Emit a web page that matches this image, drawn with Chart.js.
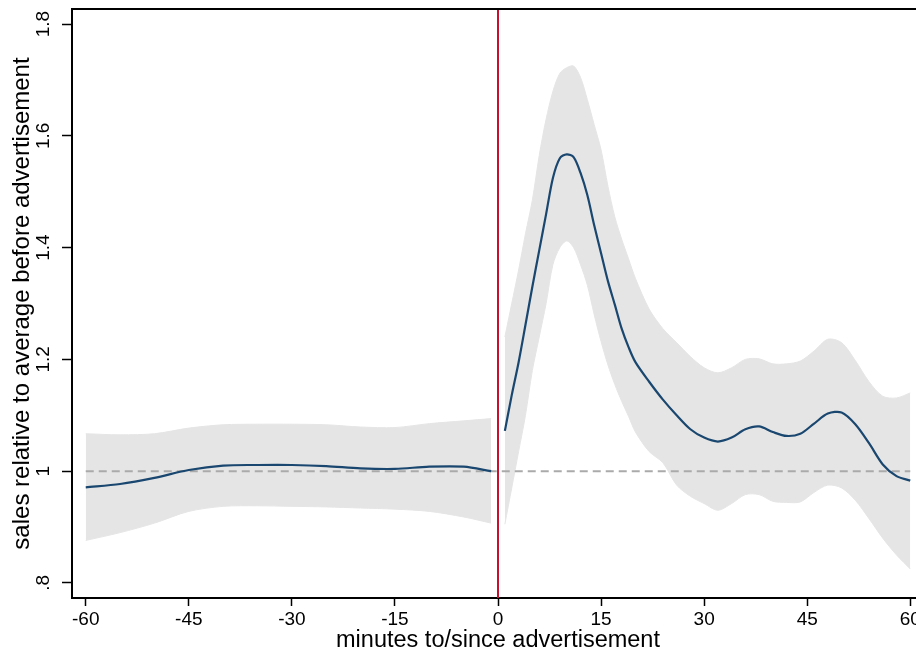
<!DOCTYPE html>
<html>
<head>
<meta charset="utf-8">
<script src="https://cdn.jsdelivr.net/npm/chart.js@4.4.1/dist/chart.umd.min.js"></script>
<style>
  html, body { margin: 0; padding: 0; background: #fff; overflow: hidden; }
  #wrap { width: 940px; height: 654px; }
</style>
</head>
<body>
<div id="wrap"><canvas id="chart"></canvas></div>
<script>
// minutes before the ad
const BEFORE_MIN   = [-60, -55, -50, -45, -40, -35, -30, -25, -20, -15, -10, -5, -1];
const BEFORE_SALES = [0.971, 0.977, 0.988, 1.002, 1.010, 1.011, 1.011, 1.009, 1.005, 1.004, 1.008, 1.008, 1.000];
const BEFORE_HI    = [1.067, 1.065, 1.067, 1.077, 1.083, 1.084, 1.084, 1.083, 1.079, 1.078, 1.085, 1.090, 1.094];
const BEFORE_LO    = [0.876, 0.890, 0.907, 0.928, 0.937, 0.938, 0.937, 0.936, 0.934, 0.932, 0.928, 0.918, 0.907];

// minutes after the ad
const AFTER_MIN   = [1, 2, 3, 4, 5, 6, 7, 8, 9, 10, 11, 12, 13, 14, 15, 16, 17, 18, 19, 20,
                     22, 24, 26, 28, 30, 32, 34, 36, 38, 40, 42, 44, 46, 48, 50, 52, 54, 56, 58, 60];
const AFTER_SALES = [1.072, 1.136, 1.195, 1.262, 1.330, 1.395, 1.460, 1.525, 1.560, 1.567, 1.562, 1.534, 1.494, 1.440, 1.390, 1.340, 1.298, 1.255, 1.222, 1.195,
                     1.160, 1.128, 1.100, 1.075, 1.060, 1.053, 1.060, 1.075, 1.080, 1.070, 1.063, 1.067, 1.085, 1.103, 1.105, 1.084, 1.050, 1.012, 0.991, 0.983];
const AFTER_HI    = [1.240, 1.300, 1.360, 1.425, 1.485, 1.565, 1.630, 1.680, 1.712, 1.722, 1.725, 1.705, 1.665, 1.620, 1.575, 1.510, 1.455, 1.415, 1.380, 1.345,
                     1.290, 1.255, 1.230, 1.205, 1.185, 1.176, 1.185, 1.200, 1.201, 1.192, 1.192, 1.197, 1.215, 1.236, 1.230, 1.198, 1.160, 1.134, 1.131, 1.140];
const AFTER_LO    = [0.905, 0.970, 1.035, 1.100, 1.180, 1.240, 1.300, 1.370, 1.400, 1.412, 1.400, 1.370, 1.333, 1.280, 1.232, 1.190, 1.155, 1.125, 1.098, 1.070,
                     1.035, 1.015, 0.975, 0.955, 0.942, 0.930, 0.942, 0.958, 0.958, 0.946, 0.944, 0.945, 0.962, 0.975, 0.970, 0.948, 0.915, 0.880, 0.850, 0.825];

const BASELINE_MIN = [-60, 60];
const BASELINE_VAL = [1, 1];
const AD_MINUTE = 0;

const X_TICKS = [-60, -45, -30, -15, 0, 15, 30, 45, 60];
const Y_TICKS = [0.8, 1, 1.2, 1.4, 1.6, 1.8];
const Y_TICK_LABELS = ['.8', '1', '1.2', '1.4', '1.6', '1.8'];

const NAVY = '#1a476f';
const BAND = '#e5e5e5';
const FONT = 'Liberation Sans, Arial, sans-serif';

const pts = (xs, ys) => xs.map((x, i) => ({ x, y: ys[i] }));

function band(xs, lo, hi) {
  return [
    { data: pts(xs, lo), borderColor: BAND, borderWidth: 1, pointRadius: 0, fill: false, order: 3, tension: 0.3 },
    { data: pts(xs, hi), borderColor: BAND, borderWidth: 1, pointRadius: 0, backgroundColor: BAND, fill: '-1', order: 3, tension: 0.3 }
  ];
}

function line(xs, ys) {
  return { data: pts(xs, ys), borderColor: NAVY, borderWidth: 2.2, pointRadius: 0, fill: false, order: 1, tension: 0.3 };
}

// red line at the ad + top of the frame
const frame = {
  id: 'frame',
  afterDatasetsDraw(chart) {
    const { ctx, chartArea: a, scales: { x } } = chart;
    const px = x.getPixelForValue(AD_MINUTE);
    ctx.save();
    ctx.strokeStyle = '#c8102e';
    ctx.lineWidth = 2;
    ctx.beginPath(); ctx.moveTo(px, a.top); ctx.lineTo(px, a.bottom); ctx.stroke();
    ctx.strokeStyle = '#000';
    ctx.lineWidth = 2;
    ctx.beginPath(); ctx.moveTo(a.left - 1, a.top); ctx.lineTo(a.right, a.top); ctx.stroke();
    ctx.restore();
  }
};

new Chart(document.getElementById('chart'), {
  type: 'line',
  data: {
    datasets: [
      ...band(BEFORE_MIN, BEFORE_LO, BEFORE_HI),
      ...band(AFTER_MIN, AFTER_LO, AFTER_HI),
      { data: pts(BASELINE_MIN, BASELINE_VAL), borderColor: '#aaaaaa', borderWidth: 2, borderDash: [8, 5], pointRadius: 0, fill: false, order: 2 },
      line(BEFORE_MIN, BEFORE_SALES),
      line(AFTER_MIN, AFTER_SALES)
    ]
  },
  options: {
    responsive: true,
    maintainAspectRatio: false,
    animation: false,
    layout: { padding: { top: 9, right: 16, bottom: 0, left: 10 } },
    plugins: { legend: { display: false }, tooltip: { enabled: false } },
    scales: {
      x: {
        type: 'linear',
        min: -62,
        max: 62,
        afterBuildTicks: s => { s.ticks = X_TICKS.map(v => ({ value: v })); },
        afterFit: s => { s.height = 56; },
        ticks: { color: '#000', font: { family: FONT, size: 19 }, padding: 2, maxRotation: 0 },
        grid: { drawOnChartArea: false, tickLength: 8, tickColor: '#000', tickWidth: 1.5 },
        border: { color: '#000', width: 2 },
        title: { display: true, text: 'minutes to/since advertisement', color: '#000', font: { family: FONT, size: 23.5, lineHeight: 1 }, padding: { top: 0, bottom: 2 } }
      },
      y: {
        min: 0.773,
        max: 1.827,
        afterBuildTicks: s => { s.ticks = Y_TICKS.map(v => ({ value: v })); },
        afterFit: s => { s.width = 62; s.paddingTop = 0; s.paddingBottom = 0; },
        ticks: {
          color: '#000', font: { family: FONT, size: 19 }, padding: 5,
          minRotation: 90, maxRotation: 90, crossAlign: 'center',
          callback: v => Y_TICK_LABELS[Y_TICKS.findIndex(t => Math.abs(t - v) < 1e-6)]
        },
        grid: { drawOnChartArea: false, tickLength: 10, tickColor: '#000', tickWidth: 1.5 },
        border: { color: '#000', width: 2 },
        title: { display: true, text: 'sales relative to average before advertisement', color: '#000', font: { family: FONT, size: 24, lineHeight: 1 }, padding: { top: 0, bottom: 0 } }
      }
    }
  },
  plugins: [frame]
});
</script>
</body>
</html>
